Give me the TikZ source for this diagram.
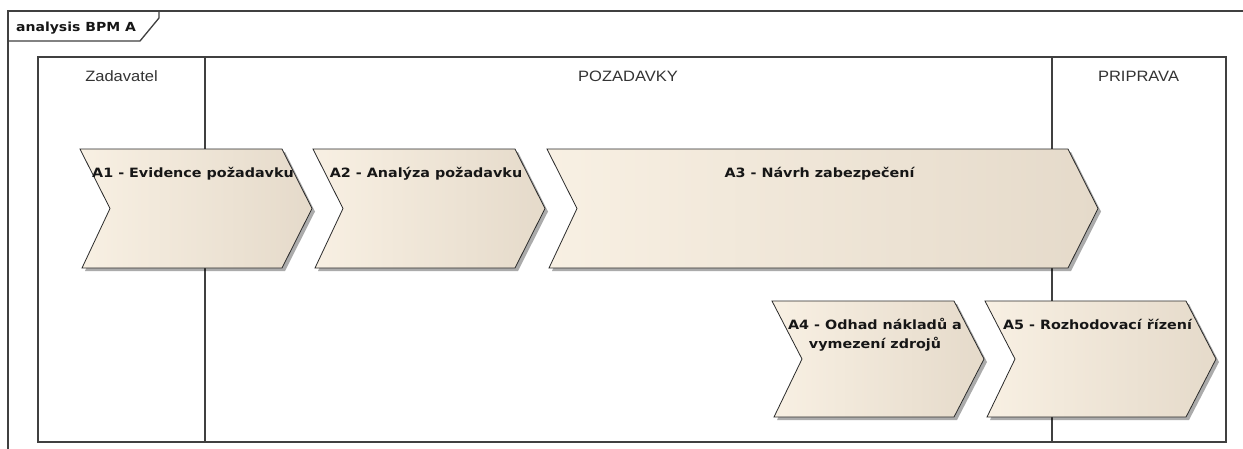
\documentclass[tikz,border=0pt]{standalone}
\usepackage{fontspec}
\setmainfont{Liberation Sans}
\newfontfamily\actfont{DejaVu Sans}[FakeStretch=1.12]
\newfontfamily\lanefont{Liberation Sans}[FakeStretch=1.1]
\usetikzlibrary{shadows}

\definecolor{linegray}{HTML}{404040}
\definecolor{edgegray}{HTML}{2A2A2A}
\definecolor{fillL}{HTML}{F8F0E3}
\definecolor{fillM}{HTML}{F5ECDD}
\definecolor{fillR}{HTML}{E5DACA}
\definecolor{acttxt}{HTML}{161616}
\definecolor{lanetxt}{HTML}{333333}

\tikzset{
  frameline/.style={draw=linegray, line width=1.3pt},
  poolline/.style={draw=linegray, line width=1.4pt},
  actshape/.style={draw=edgegray, line width=0.8pt, line join=miter,
    left color=fillL, middle color=fillM, right color=fillR,
    drop shadow={shadow xshift=3pt, shadow yshift=-3pt, fill=black, opacity=0.33}},
  acttext/.style={anchor=north, inner sep=0pt, align=center, text=acttxt,
    font=\actfont\bfseries\fontsize{12.8}{19}\selectfont},
  lanelabel/.style={anchor=base, inner sep=0pt, text=lanetxt,
    font=\lanefont\fontsize{15}{18}\selectfont},
  titletext/.style={anchor=base west, inner sep=0pt, text=acttxt,
    font=\actfont\bfseries\fontsize{12.5}{15}\selectfont},
}

% activity chevron: name, left x, tip x, top y, bottom y, label
\newcommand{\actbox}[6]{%
  \path[actshape] (#2,#4) -- ({#3-30},#4) -- (#3,{(#4+#5)/2}) -- ({#3-30},#5)
        -- ({#2+2},#5) -- ({#2+30},{(#4+#5)/2}) -- cycle;
  \node[acttext] (#1) at ({(#2+#3)/2-3},{#4+16}) {\rule{0pt}{12pt}#6};
}

\begin{document}
\begin{tikzpicture}[x=1pt,y=-1pt]
\useasboundingbox (0,0) rectangle (1243,448);
\clip (0,0) rectangle (1243,448);
\fill[white] (0,0) rectangle (1243,448);

% diagram frame and its name tab
\draw[frameline] (8,460) -- (8,11) -- (1260,11);
\draw[frameline] (8,41) -- (140,41) -- (159,18) -- (159,11);
\node[titletext] (title) at (16,31) {analysis BPM A};

% pool with three lanes
\draw[poolline] (38,57) rectangle (1226,442);
\draw[poolline] (205,57) -- (205,442);
\draw[poolline] (1052,57) -- (1052,442);
\node[lanelabel] (laneZ) at (121.5,81) {Zadavatel};
\node[lanelabel] (laneP) at (628,81) {POZADAVKY};
\node[lanelabel] (laneR) at (1138.5,81) {PRIPRAVA};

% activities
\actbox{a1}{80}{312}{149}{268}{A1 - Evidence požadavku}
\actbox{a2}{313}{545}{149}{268}{A2 - Analýza požadavku}
\actbox{a3}{547}{1098}{149}{268}{A3 - Návrh zabezpečení}
\actbox{a4}{772}{984}{301}{417}{A4 - Odhad nákladů a\\vymezení zdrojů}
\actbox{a5}{985}{1216}{301}{417}{A5 - Rozhodovací řízení}
\end{tikzpicture}
\end{document}
